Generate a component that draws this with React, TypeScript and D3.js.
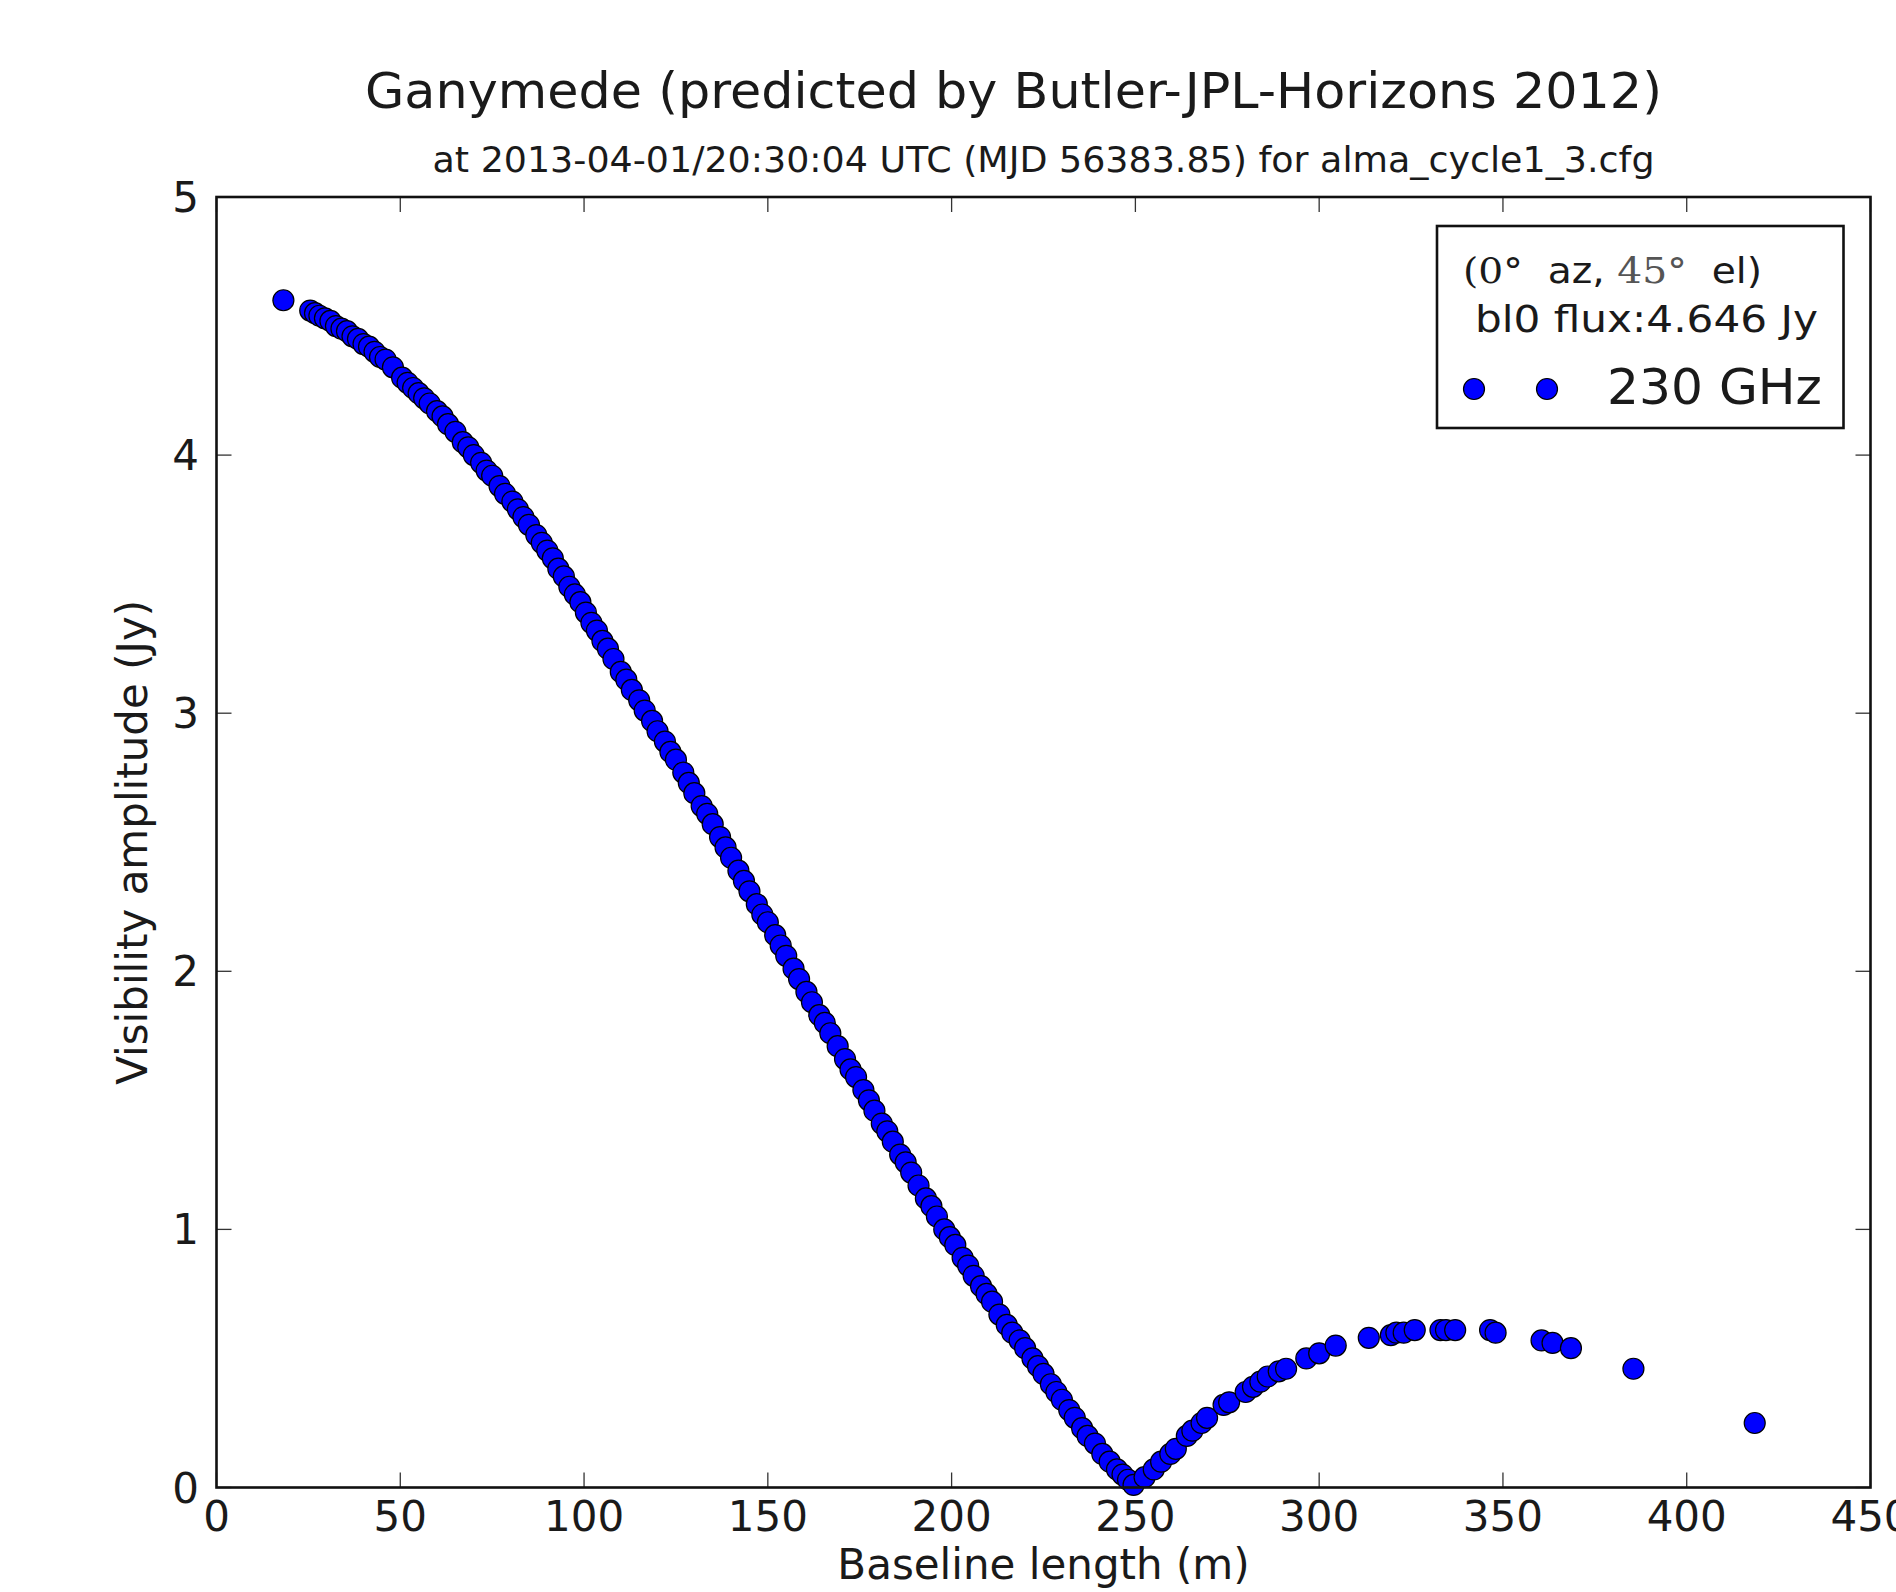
import React from "react";
import * as d3 from "d3";

const baselineM = [
  18.2, 25.5, 26.8, 28.0, 29.5, 31.0, 32.5, 34.0, 35.5, 37.0, 38.5, 40.0, 41.5, 43.0, 44.5, 46.0, 48.0,
  50.5, 52.0, 53.5, 55.0, 56.5, 58.0, 60.0, 61.5, 63.0, 65.0, 67.0, 68.5, 70.0, 72.0, 73.5, 75.0, 77.0,
  78.5, 80.5, 82.0, 83.5, 85.0, 87.0, 88.5, 90.0, 91.5, 93.0, 94.5, 96.0, 97.5, 99.0, 100.5, 102.0,
  103.5, 105.0, 106.5, 108.0, 110.0, 111.5, 113.0, 115.0, 116.5, 118.5, 120.0, 122.0, 123.5, 125.0,
  127.0, 128.5, 130.0, 132.0, 133.5, 135.0, 137.0, 138.5, 140.0, 142.0, 143.5, 145.0, 147.0, 148.5,
  150.0, 152.0, 153.5, 155.0, 157.0, 158.5, 160.5, 162.0, 164.0, 165.5, 167.0, 169.0, 171.0, 172.5,
  174.0, 176.0, 177.5, 179.0, 181.0, 182.5, 184.0, 186.0, 187.5, 189.0, 191.0, 193.0, 194.5, 196.0,
  198.0, 199.5, 201.0, 203.0, 204.5, 206.0, 208.0, 209.5, 211.0, 213.0, 215.0, 216.5, 218.5, 220.0,
  222.0, 223.5, 225.0, 227.0, 228.5, 230.0, 232.0, 233.5, 235.5, 237.0, 239.0, 241.0, 243.0, 245.0,
  246.5, 248.0, 249.5,
  252.5, 255.0, 257.0, 259.5, 261.0, 264.0, 265.5, 268.0, 269.5, 274.0, 275.5, 280.0, 282.0, 284.0,
  286.0, 289.0, 291.0, 296.5, 300.0, 304.5, 313.5, 319.5, 321.0, 323.0, 326.0, 333.0, 334.5, 337.0,
  346.5, 348.0, 360.5, 363.5, 368.5, 385.5, 418.5,
];

const amplitudeJy = [
  4.60, 4.56, 4.55, 4.54, 4.53, 4.52, 4.50, 4.49, 4.48, 4.46, 4.45, 4.43, 4.42, 4.40, 4.38, 4.37, 4.34,
  4.30, 4.28, 4.26, 4.24, 4.22, 4.20, 4.17, 4.15, 4.12, 4.09, 4.05, 4.03, 4.00, 3.97, 3.94, 3.92, 3.88,
  3.85, 3.82, 3.79, 3.76, 3.73, 3.69, 3.66, 3.63, 3.60, 3.56, 3.53, 3.49, 3.46, 3.43, 3.39, 3.35,
  3.32, 3.28, 3.25, 3.21, 3.16, 3.13, 3.09, 3.05, 3.01, 2.97, 2.93, 2.89, 2.85, 2.82,
  2.77, 2.73, 2.69, 2.64, 2.61, 2.57, 2.52, 2.48, 2.44, 2.39, 2.35, 2.31, 2.26, 2.22,
  2.19, 2.14, 2.10, 2.06, 2.01, 1.97, 1.92, 1.88, 1.83, 1.80, 1.76, 1.71, 1.66, 1.62,
  1.59, 1.54, 1.50, 1.46, 1.41, 1.38, 1.34, 1.29, 1.26, 1.22, 1.17, 1.12, 1.09, 1.05,
  1.00, 0.97, 0.94, 0.89, 0.86, 0.82, 0.78, 0.75, 0.72, 0.67, 0.63, 0.60, 0.57, 0.54,
  0.50, 0.47, 0.44, 0.40, 0.37, 0.34, 0.30, 0.27, 0.23, 0.20, 0.17, 0.13, 0.10, 0.07,
  0.05, 0.03, 0.01,
  0.04, 0.07, 0.10, 0.13, 0.15, 0.20, 0.22, 0.25, 0.27, 0.32, 0.33, 0.37, 0.39, 0.41,
  0.43, 0.45, 0.46, 0.50, 0.52, 0.55, 0.58, 0.59, 0.60, 0.60, 0.61, 0.61, 0.61, 0.61,
  0.61, 0.60, 0.57, 0.56, 0.54, 0.46, 0.25,
];

const xTicks = [0, 50, 100, 150, 200, 250, 300, 350, 400, 450];
const yTicks = [0, 1, 2, 3, 4, 5];

const titleText = "Ganymede (predicted by Butler-JPL-Horizons 2012)";
const subtitleText = "at 2013-04-01/20:30:04 UTC (MJD 56383.85) for alma_cycle1_3.cfg";
const xLabel = "Baseline length (m)";
const yLabel = "Visibility amplitude (Jy)";
const legendFlux = "bl0 flux:4.646 Jy";
const legendSeries = "230 GHz";

const W = 1896;
const H = 1592;
const left = 216.5;
const right = 1870.5;
const top = 197;
const bottom = 1487.5;

const SANS = "'DejaVu Sans', sans-serif";
const SERIF = "'DejaVu Serif', 'Liberation Serif', serif";

export default function App() {
  const x = d3.scaleLinear().domain([0, 450]).range([left, right]);
  const y = d3.scaleLinear().domain([0, 5]).range([bottom, top]);
  const pts = baselineM.map((b, i) => ({ b, a: amplitudeJy[i] }));
  const tickLen = 15;
  const r = 10.5;

  return (
    <svg
      width={W}
      height={H}
      style={{ position: "absolute", left: 0, top: 0, display: "block", background: "#fff" }}
      xmlns="http://www.w3.org/2000/svg"
    >
      <rect x={0} y={0} width={W} height={H} fill="#fff" />
      <text x={365} y={108} fontFamily={SANS} fontSize={50} fill="#1a1a1a" textLength={1297} lengthAdjust="spacingAndGlyphs">
        {titleText}
      </text>
      <text x={432.5} y={171.5} fontFamily={SANS} fontSize={36} fill="#1a1a1a" textLength={1222} lengthAdjust="spacingAndGlyphs">
        {subtitleText}
      </text>

      {/* ticks */}
      {xTicks.map((t) => (
        <g key={"xt" + t}>
          <line x1={x(t)} x2={x(t)} y1={bottom} y2={bottom - tickLen} stroke="#333" strokeWidth={1.3} />
          <line x1={x(t)} x2={x(t)} y1={top} y2={top + tickLen} stroke="#333" strokeWidth={1.3} />
          <text x={x(t)} y={1531} textAnchor="middle" fontFamily={SANS} fontSize={42} fill="#1a1a1a">
            {t}
          </text>
        </g>
      ))}
      {yTicks.map((t) => (
        <g key={"yt" + t}>
          <line x1={left} x2={left + tickLen} y1={y(t)} y2={y(t)} stroke="#333" strokeWidth={1.3} />
          <line x1={right} x2={right - tickLen} y1={y(t)} y2={y(t)} stroke="#333" strokeWidth={1.3} />
          <text x={199} y={y(t) + 15} textAnchor="end" fontFamily={SANS} fontSize={42} fill="#1a1a1a">
            {t}
          </text>
        </g>
      ))}

      {/* points */}
      <g>
        {pts.map((p, i) => (
          <circle key={i} cx={x(p.b)} cy={y(p.a)} r={r} fill="#0000ff" stroke="#000" strokeWidth={1.2} />
        ))}
      </g>

      {/* frame */}
      <rect x={left} y={top} width={right - left} height={bottom - top} fill="none" stroke="#111" strokeWidth={2.6} />

      {/* axis labels */}
      <text x={(left + right) / 2} y={1579} textAnchor="middle" fontFamily={SANS} fontSize={42} fill="#1a1a1a">
        {xLabel}
      </text>
      <text
        transform={`translate(147, ${(top + bottom) / 2}) rotate(-90)`}
        textAnchor="middle"
        fontFamily={SANS}
        fontSize={42}
        fill="#1a1a1a"
      >
        {yLabel}
      </text>

      {/* legend */}
      <rect x={1437} y={226} width={406.5} height={202} fill="#fff" stroke="#111" strokeWidth={2.6} />
      <text x={1463} y={283} fontFamily={SANS} fontSize={36} fill="#1a1a1a" textLength={299} lengthAdjust="spacingAndGlyphs">
        <tspan fontFamily={SERIF}>(</tspan>
        <tspan fontFamily={SERIF}>0°</tspan>
        <tspan>{"\u00a0\u00a0az, "}</tspan>
        <tspan fontFamily={SERIF} fill="#555">45°</tspan>
        <tspan>{"\u00a0\u00a0el)"}</tspan>
      </text>
      <text x={1475} y={332} fontFamily={SANS} fontSize={38} fill="#1a1a1a" textLength={343} lengthAdjust="spacingAndGlyphs">
        {legendFlux}
      </text>
      <circle cx={1474} cy={389} r={r} fill="#0000ff" stroke="#000" strokeWidth={1.2} />
      <circle cx={1547} cy={389} r={r} fill="#0000ff" stroke="#000" strokeWidth={1.2} />
      <text x={1607} y={404} fontFamily={SANS} fontSize={49} fill="#1a1a1a" textLength={215} lengthAdjust="spacingAndGlyphs">
        {legendSeries}
      </text>
    </svg>
  );
}
